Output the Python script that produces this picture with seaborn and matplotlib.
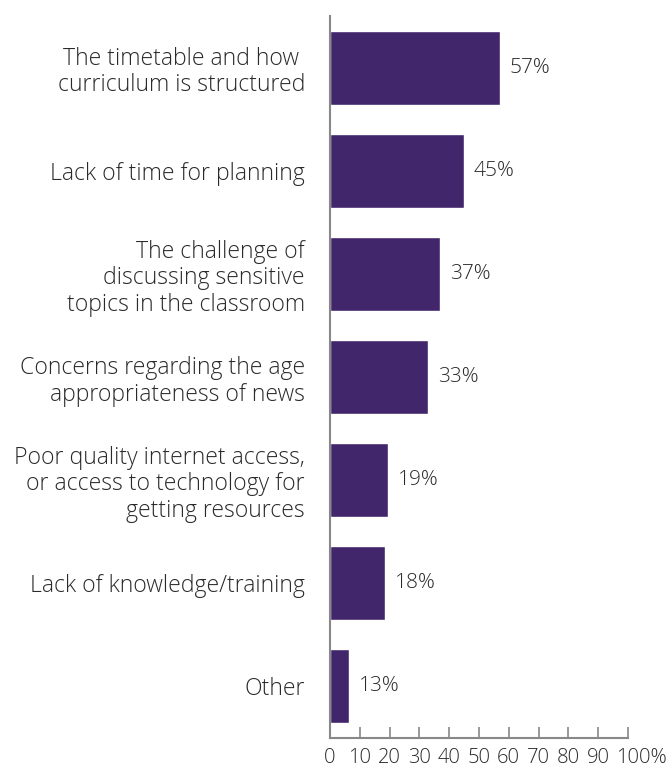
import numpy as np
import pandas as pd
import seaborn as sns
import matplotlib.pyplot as plt
import matplotlib.transforms as mtransforms

categories = ['The timetable and how \ncurriculum is structured',
              'Lack of time for planning',
              'The challenge of\ndiscussing sensitive\ntopics in the classroom',
              'Concerns regarding the age\nappropriateness of news',
              'Poor quality internet access,\nor access to technology for\ngetting resources',
              'Lack of knowledge/training',
              'Other']
bar_values = [57, 45, 37, 33, 19.5, 18.5, 6.5]
value_labels = ['57%', '45%', '37%', '33%', '19%', '18%', '13%']
tick_labels = ['0', '10', '20', '30', '40', '50', '60', '70', '80', '90', '100%']

df = pd.DataFrame({'category': categories, 'value': bar_values})

sns.set_style('white')
plt.rcParams['font.family'] = ['Open Sans', 'DejaVu Sans']

fig = plt.figure(figsize=(6.68, 7.71), dpi=100)
ax = fig.add_axes([0.494, 0.043, 0.446, 0.936])
sns.barplot(data=df, x='value', y='category', orient='h', color='#42266c',
            width=0.72, saturation=1, ax=ax)

ax.set_xlim(0, 100)
ax.set_ylim(6.5, -0.5)
ax.set_xticks(range(0, 101, 10))
ax.set_xticklabels(tick_labels, fontsize=14.5, color='#2a2a2a', fontweight='light')
ax.set_yticks(range(len(categories)))
ax.set_yticklabels(categories, fontsize=16.6, color='#2a2a2a', fontweight='light',
                   linespacing=1.15)
ax.tick_params(axis='x', bottom=True, direction='in', length=8, width=1.2,
               color='#888888', pad=7)
ax.tick_params(axis='y', length=0, pad=18)
ax.set_xlabel('')
ax.set_ylabel('')

# the "100%" label sits with its number on the tick and the % sign hanging right
last = ax.get_xticklabels()[-1]
last.set_transform(last.get_transform() +
                   mtransforms.ScaledTranslation(10 / 72, 0, fig.dpi_scale_trans))

for s in ['top', 'right']:
    ax.spines[s].set_visible(False)
for s in ['left', 'bottom']:
    ax.spines[s].set_color('#888888')
    ax.spines[s].set_linewidth(1.5)

for i, (v, lab) in enumerate(zip(bar_values, value_labels)):
    ax.text(v + 3.2, i, lab, va='center', ha='left', fontsize=15,
            color='#2a2a2a', fontweight='light')

fig.savefig('out.png', dpi=100)
